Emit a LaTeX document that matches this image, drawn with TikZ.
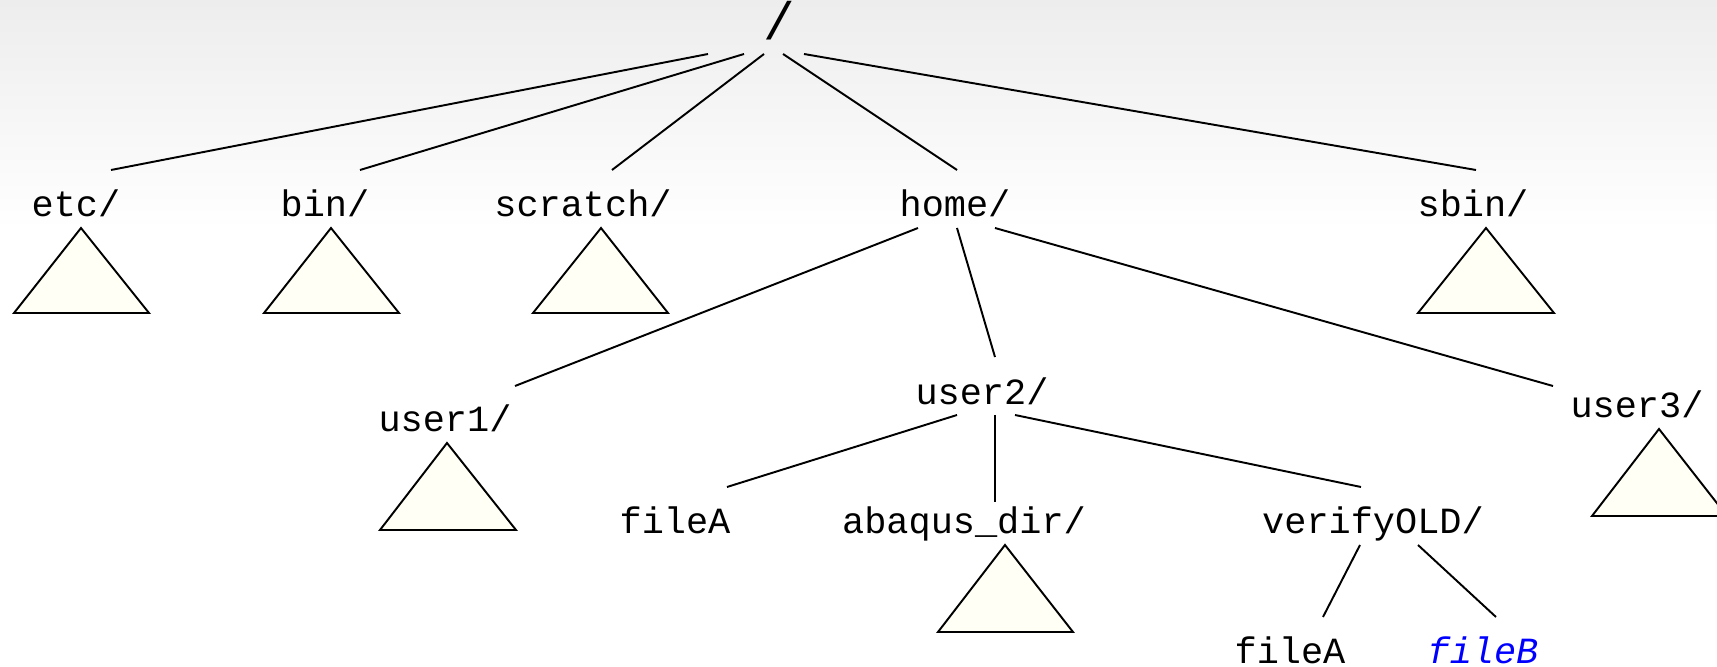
\documentclass[tikz,border=0pt]{standalone}
\usepackage{fontspec}
\setmonofont{Liberation Mono}
\definecolor{trifill}{RGB}{255,255,245}
\definecolor{bgtop}{RGB}{237,237,237}
\definecolor{fblue}{RGB}{0,0,255}
\begin{document}
\begin{tikzpicture}[x=0.01cm,y=-0.01cm,
  lbl/.style={font=\ttfamily\fontsize{10.5}{12}\selectfont, inner sep=0pt, anchor=base},
  rootlbl/.style={font=\ttfamily\fontsize{15}{18}\selectfont, inner sep=0pt, anchor=base},
  edge/.style={line width=0.55pt},
  tri/.style={draw, fill=trifill, line width=0.55pt, line join=miter}]
\useasboundingbox (0,0) rectangle (1717,667);
\fill[white] (0,0) rectangle (1717,667);
\shade[top color=bgtop, bottom color=white] (0,0) rectangle (1717,230);

% labels
\node[rootlbl] (root) at (779,40) {/};
\node[lbl] (etc) at (76,217) {etc/};
\node[lbl] (bin) at (325,217) {bin/};
\node[lbl] (scratch) at (583,217) {scratch/};
\node[lbl] (home) at (955,217) {home/};
\node[lbl] (sbin) at (1473,217) {sbin/};
\node[lbl] (user1) at (445,432) {user1/};
\node[lbl] (user2) at (982,405) {user2/};
\node[lbl] (user3) at (1637,418) {user3/};
\node[lbl] (fileA) at (675,534) {fileA};
\node[lbl] (abaqus) at (964,534) {abaqus\_dir/};
\node[lbl] (verify) at (1373,534) {verifyOLD/};
\node[lbl] (fileAA) at (1290,663) {fileA};
\node[lbl, text=fblue] (fileB) at (1483,663) {\itshape fileB};

% connector end points
\coordinate (r1) at (708,54);
\coordinate (r2) at (744,54);
\coordinate (r3) at (764,54);
\coordinate (r4) at (783,54);
\coordinate (r5) at (804,54);
\coordinate (etcT) at (111,170);
\coordinate (binT) at (360,170);
\coordinate (scratchT) at (612,170);
\coordinate (homeT) at (957,170);
\coordinate (sbinT) at (1476,170);
\coordinate (h1) at (918,228);
\coordinate (h2) at (957,228);
\coordinate (h3) at (995,228);
\coordinate (user1T) at (515,386);
\coordinate (user2T) at (995,357);
\coordinate (user3T) at (1553,386);
\coordinate (u1) at (957,415);
\coordinate (u2) at (995,415);
\coordinate (u3) at (1015,415);
\coordinate (fileAT) at (727,487);
\coordinate (abaqusT) at (995,502);
\coordinate (verifyT) at (1361,487);
\coordinate (v1) at (1360,545);
\coordinate (v2) at (1418,545);
\coordinate (fileAAT) at (1323,617);
\coordinate (fileBT) at (1496,617);

% connectors
\draw[edge] (r1) -- (etcT);
\draw[edge] (r2) -- (binT);
\draw[edge] (r3) -- (scratchT);
\draw[edge] (r4) -- (homeT);
\draw[edge] (r5) -- (sbinT);
\draw[edge] (h1) -- (user1T);
\draw[edge] (h2) -- (user2T);
\draw[edge] (h3) -- (user3T);
\draw[edge] (u1) -- (fileAT);
\draw[edge] (u2) -- (abaqusT);
\draw[edge] (u3) -- (verifyT);
\draw[edge] (v1) -- (fileAAT);
\draw[edge] (v2) -- (fileBT);

% subtree triangles
\draw[tri] (81,228) -- (149,313) -- (14,313) -- cycle;
\draw[tri] (331,228) -- (399,313) -- (264,313) -- cycle;
\draw[tri] (601,228) -- (668,313) -- (533,313) -- cycle;
\draw[tri] (1486,228) -- (1554,313) -- (1418,313) -- cycle;
\draw[tri] (447,443) -- (516,530) -- (380,530) -- cycle;
\draw[tri] (1005,545) -- (1073,632) -- (938,632) -- cycle;
\draw[tri] (1659,429) -- (1727,516) -- (1592,516) -- cycle;
\end{tikzpicture}
\end{document}
